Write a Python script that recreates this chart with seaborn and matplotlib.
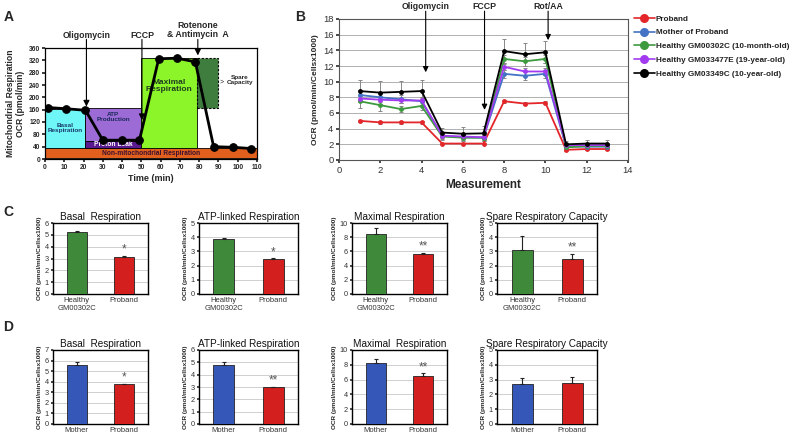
import numpy as np
import pandas as pd
import matplotlib
matplotlib.use("Agg")
import matplotlib.pyplot as plt
import seaborn as sns
from matplotlib.patches import Rectangle
from matplotlib.lines import Line2D

sns.set_theme(style="white")
plt.rcParams['font.family'] = ['Liberation Sans', 'DejaVu Sans']

# ---------------- Data ----------------
# Panel A (schematic)
a_time = [1.5, 11, 21, 30, 40, 49, 59, 68.5, 78, 87.5, 97.5, 107]
a_ocr = [167, 163, 158, 61, 61, 61, 325, 327, 315, 40, 38, 34]
a_yticks = [0, 40, 80, 120, 160, 200, 240, 280, 320, 360]
a_xticks = [0, 10, 20, 30, 40, 50, 60, 70, 80, 90, 100, 110]

# Panel B
b_measure = list(range(1, 14))
b_series = ["Proband", "Mother of Proband", "Healthy GM00302C (10-month-old)",
            "Healthy GM033477E (19-year-old)", "Healthy GM03349C (10-year-old)"]
b_proband = [5.0, 4.8, 4.8, 4.8, 2.1, 2.1, 2.1, 7.5, 7.2, 7.3, 1.3, 1.4, 1.4]
b_mother = [8.3, 8.0, 7.75, 7.5, 3.1, 2.9, 2.85, 11.0, 10.75, 11.0, 1.7, 1.7, 1.7]
b_gm00302 = [7.5, 7.0, 6.5, 6.9, 3.0, 2.85, 2.85, 12.9, 12.6, 12.9, 1.6, 1.8, 1.8]
b_gm033477 = [7.85, 7.7, 7.6, 7.6, 3.1, 3.0, 2.9, 11.9, 11.3, 11.3, 1.9, 1.9, 1.9]
b_gm03349 = [8.8, 8.6, 8.7, 8.8, 3.5, 3.35, 3.4, 13.9, 13.5, 13.75, 2.0, 2.1, 2.1]
b_err_proband = [0.15, 0.15, 0.15, 0.15, 0.1, 0.1, 0.1, 0.2, 0.2, 0.2, 0.1, 0.1, 0.1]
b_err_mother = [0.6, 0.5, 0.5, 0.5, 0.4, 0.3, 0.3, 0.5, 0.5, 0.5, 0.3, 0.3, 0.3]
b_err_gm00302 = [0.8, 0.8, 0.4, 0.5, 0.4, 0.4, 0.4, 0.5, 0.6, 0.5, 0.3, 0.3, 0.3]
b_err_gm033477 = [0.3, 0.3, 0.3, 0.3, 0.3, 0.3, 0.3, 0.4, 0.4, 0.4, 0.2, 0.2, 0.2]
b_err_gm03349 = [1.4, 1.5, 1.4, 1.4, 0.6, 0.9, 1.0, 1.5, 1.5, 1.4, 0.4, 0.4, 0.4]

# Panels C and D
bar_titles = ["Basal  Respiration", "ATP-linked Respiration",
              "Maximal Respiration", "Spare Respiratory Capacity"]
bar_titles_d = ["Basal  Respiration", "ATP-linked Respiration",
                "Maximal  Respiration", "Spare Respiratory Capacity"]
c_groups = ["Healthy\nGM00302C", "Proband"]
c_values = [[5.2, 3.1], [3.85, 2.45], [8.4, 5.6], [3.1, 2.5]]
c_errors = [[0.1, 0.15], [0.12, 0.08], [0.9, 0.2], [1.0, 0.35]]
c_stars = ["*", "*", "**", "**"]
c_ymax = [6, 5, 10, 5]
c_ystep = [1, 1, 2, 1]
d_groups = ["Mother", "Proband"]
d_values = [[5.55, 3.75], [4.8, 3.0], [8.2, 6.5], [2.7, 2.8]]
d_errors = [[0.3, 0.05], [0.25, 0.03], [0.6, 0.4], [0.4, 0.4]]
d_stars = ["*", "**", "**", ""]
d_ymax = [7, 6, 10, 5]
d_ystep = [1, 1, 2, 1]

# ---------------- Figure ----------------
W, H = 800, 437
fig = plt.figure(figsize=(8, 4.37), dpi=100)
fig.patch.set_facecolor("white")


def px_axes(l, t, r, b):
    return fig.add_axes([l / W, 1 - b / H, (r - l) / W, (b - t) / H])


# ---------------- Panel A ----------------
axA = px_axes(45, 48, 257, 159)
regions = [
    (0, 110, 2, 35, "#E2601E", "Non-mitochondrial Respiration", "#3b1030", 4.8, 55, 17),
    (0, 21, 35, 163, "#6FF7F7", "Basal\nRespiration", "#1a3a6a", 4.6, 10.5, 100),
    (21, 50, 58, 165, "#9C6BD6", "ATP\nProduction", "#1a2a5a", 4.6, 35.5, 135),
    (21, 50, 35, 58, "#5A1A8F", "Proton Leak", "white", 4.8, 35.5, 46),
    (50, 79, 35, 328, "#8CF52A", "Maximal\nRespiration", "#1f3d1f", 6.0, 64.5, 238),
]
for x0, x1, y0, y1, col, lab, tcol, fs, tx, ty in regions:
    axA.add_patch(Rectangle((x0, y0), x1 - x0, y1 - y0, facecolor=col,
                            edgecolor="black", lw=0.6, zorder=1))
    axA.text(tx, ty, lab, ha="center", va="center", fontsize=fs,
             fontweight="bold", color=tcol, zorder=2, linespacing=1.0)
axA.add_patch(Rectangle((79, 165), 11, 163, facecolor="#3E7D3E",
                        edgecolor="black", lw=0.8, ls=(0, (2, 1.5)), zorder=1))
axA.text(101, 255, "Spare\nCapacity", ha="center", va="center", fontsize=4.6,
         fontweight="bold", color="#222", linespacing=1.0)
axA.text(91.5, 250, ">", ha="center", va="center", fontsize=5, color="#222")

sns.lineplot(x=a_time, y=a_ocr, ax=axA, color="black", lw=2.0, marker="o",
             markersize=5.5, markeredgecolor="black", zorder=5)
axA.set_xlim(0, 110)
axA.set_ylim(0, 360)
axA.set_xticks(a_xticks)
axA.set_yticks(a_yticks)
axA.tick_params(labelsize=4.8, length=2, pad=1.5, direction="out", left=True, bottom=True)
for lbl in axA.get_xticklabels() + axA.get_yticklabels():
    lbl.set_fontweight("bold")
for s in axA.spines.values():
    s.set_color("black")
    s.set_linewidth(0.9)
axA.set_xlabel("Time (min)", fontsize=6.5, fontweight="bold", labelpad=2)
axA.set_ylabel("Mitochondrial Respiration\nOCR (pmol/min)", fontsize=6.2,
               fontweight="bold", labelpad=3, linespacing=1.1)

arrowsA = [(21.5, 170, "Oligomycin"), (50.3, 126, "FCCP"), (79.3, 336, "Rotenone\n& Antimycin  A")]
for xa, tip, lab in arrowsA:
    axA.annotate("", xy=(xa, tip), xytext=(xa, 388), annotation_clip=False,
                 arrowprops=dict(arrowstyle="-|>", color="black", lw=0.8,
                                 mutation_scale=9, shrinkA=0, shrinkB=0))
    ty = 418 if "\n" in lab else 402
    axA.text(xa, ty, lab, ha="center", va="center", fontsize=6.3,
             fontweight="bold", linespacing=1.05, clip_on=False)

# ---------------- Panel B ----------------
axB = px_axes(339, 19, 628, 160)
b_values = [b_proband, b_mother, b_gm00302, b_gm033477, b_gm03349]
b_errors = [b_err_proband, b_err_mother, b_err_gm00302, b_err_gm033477, b_err_gm03349]
b_colors = ["#E3262A", "#4472C4", "#3E9A3E", "#A23BF0", "#000000"]
rows = []
for name, vals in zip(b_series, b_values):
    for m, v in zip(b_measure, vals):
        rows.append({"Measurement": m, "OCR": v, "Group": name})
dfB = pd.DataFrame(rows)
for name, vals, errs in zip(b_series, b_values, b_errors):
    axB.errorbar(b_measure, vals, yerr=errs, fmt="none", ecolor="#888888",
                 elinewidth=0.7, capsize=1.5, capthick=0.7, zorder=2)
sns.lineplot(data=dfB, x="Measurement", y="OCR", hue="Group", hue_order=b_series,
             palette=b_colors, marker="o", markersize=3.5, markeredgewidth=0,
             lw=1.3, ax=axB, legend=False, zorder=3)
axB.set_xlim(0, 14)
axB.set_ylim(0, 18)
axB.set_xticks(range(0, 15, 2))
axB.set_yticks(range(0, 19, 2))
axB.yaxis.grid(True, color="#B0B0B0", lw=0.7)
axB.set_axisbelow(True)
axB.tick_params(labelsize=6.8, length=2, pad=2, colors="#333333", left=True, bottom=True)
for s in axB.spines.values():
    s.set_color("#555555")
    s.set_linewidth(0.8)
axB.set_xlabel("Measurement", fontsize=8.5, fontweight="bold", labelpad=3)
axB.set_ylabel("OCR (pmol/min/Cellsx1000)", fontsize=6.0, fontweight="bold", labelpad=3)

arrowsB = [(4.2, 11.2, "Oligomycin"), (7.05, 6.4, "FCCP"), (10.13, 15.3, "Rot/AA")]
for xa, tip, lab in arrowsB:
    axB.annotate("", xy=(xa, tip), xytext=(xa, 19.0), annotation_clip=False,
                 arrowprops=dict(arrowstyle="-|>", color="black", lw=0.8,
                                 mutation_scale=8, shrinkA=0, shrinkB=0))
    axB.text(xa, 19.6, lab, ha="center", va="center", fontsize=6.3,
             fontweight="bold", clip_on=False)

handles = [Line2D([0], [0], color=c, lw=1.2, marker="o", markersize=6.5,
                  markeredgewidth=0) for c in b_colors]
leg = axB.legend(handles, b_series, loc="upper left", bbox_to_anchor=(1.02, 1.03),
                 frameon=False, fontsize=5.9, handlelength=2.6, handletextpad=0.1,
                 labelspacing=0.75, borderaxespad=0, borderpad=0)
for t in leg.get_texts():
    t.set_fontweight("bold")
    t.set_color("#222")

# ---------------- Panels C & D ----------------
cols_px = [(53, 148), (199, 298), (352, 447), (497, 597)]


def bar_panel(l, r, t, b, groups, vals, errs, star, ymax, ystep, title, colors):
    ax = px_axes(l, t, r, b)
    df = pd.DataFrame({"group": groups, "value": vals})
    sns.barplot(data=df, x="group", y="value", hue="group", palette=colors,
                errorbar=None, width=0.42, edgecolor="#222222", linewidth=0.6,
                legend=False, ax=ax, zorder=3, saturation=1)
    ax.errorbar([0, 1], vals, yerr=[[0, 0], errs], fmt="none", ecolor="#222222",
                elinewidth=0.8, capsize=1.5, capthick=0.8, zorder=4)
    if star:
        ax.text(1, vals[1] + errs[1] + ymax * 0.0, star, ha="center",
                va="bottom", fontsize=8.5, color="#555555")
    ax.set_xlim(-0.5, 1.5)
    ax.set_ylim(0, ymax)
    ax.set_yticks(np.arange(0, ymax + 0.01, ystep))
    ax.yaxis.grid(True, color="#C8C8C8", lw=0.6)
    ax.set_axisbelow(True)
    ax.tick_params(axis="y", labelsize=5.3, length=1.5, pad=1.5, left=True, colors="#333")
    ax.tick_params(axis="x", labelsize=5.5, length=0, pad=2, colors="#333")
    for s in ax.spines.values():
        s.set_color("black")
        s.set_linewidth(1.0)
    ax.set_xlabel("")
    ax.set_ylabel("OCR (pmol/min/Cellsx1000)", fontsize=4.6, fontweight="bold", labelpad=2)
    ax.set_title(title, fontsize=7.2, pad=2.5, color="#111")
    return ax


for i, (l, r) in enumerate(cols_px):
    bar_panel(l, r, 223, 294, c_groups, c_values[i], c_errors[i], c_stars[i],
              c_ymax[i], c_ystep[i], bar_titles[i], ["#3F8A3A", "#D41F1F"])
    bar_panel(l, r, 350, 424, d_groups, d_values[i], d_errors[i], d_stars[i],
              d_ymax[i], d_ystep[i], bar_titles_d[i], ["#3457B8", "#D41F1F"])

# Panel letters
for lab, x, y in [("A", 9, 17), ("B", 300, 17), ("C", 8, 212), ("D", 8, 327)]:
    fig.text(x / W, 1 - y / H, lab, fontsize=10, fontweight="bold",
             ha="center", va="center")

fig.savefig("out.png", dpi=100)
